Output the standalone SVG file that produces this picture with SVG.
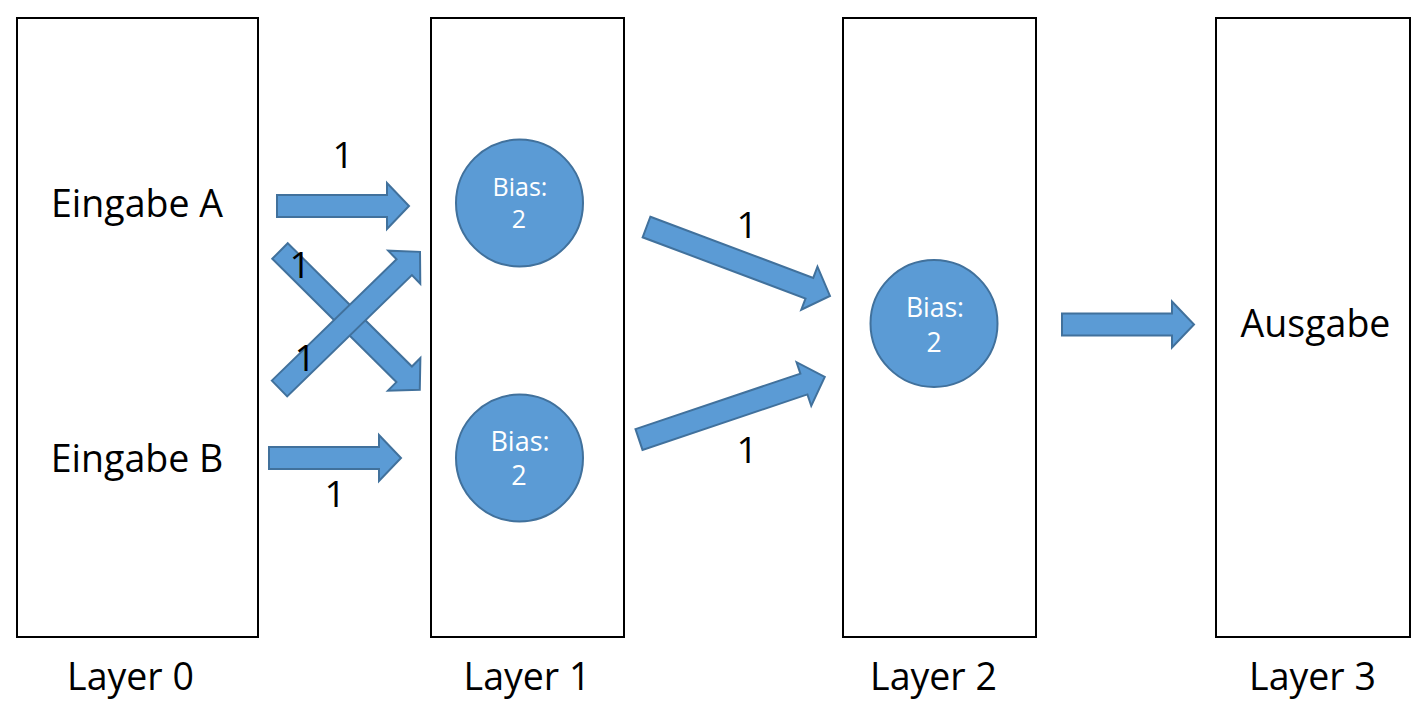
<svg xmlns="http://www.w3.org/2000/svg" width="1428" height="712" viewBox="0 0 1428 712">
<style>
.box{fill:#fff;stroke:#000;stroke-width:2}
.arr{fill:#5B9BD5;stroke:#41719C;stroke-width:2;stroke-linejoin:miter}
.circ{fill:#5B9BD5;stroke:#41719C;stroke-width:2}
.t{font-family:"Open Sans","Noto Sans",sans-serif;fill:#000;text-anchor:middle}
.big{font-size:37.5px}
.num{font-size:37px}
.bias{font-family:"Open Sans","Noto Sans",sans-serif;fill:#fff;text-anchor:middle}
</style>
<rect width="1428" height="712" fill="#fff"/>
<g id="layer0">
<rect class="box" x="17" y="18" width="241" height="619"/>
<text class="t big" x="137" y="217">Eingabe A</text>
<text class="t big" x="137" y="472">Eingabe B</text>
<text class="t big" x="130.5" y="690">Layer 0</text>
</g>
<g id="layer1">
<rect class="box" x="431" y="18" width="193" height="619"/>
<text class="t big" x="527" y="690">Layer 1</text>
</g>
<g id="layer2">
<rect class="box" x="843" y="18" width="193" height="619"/>
<text class="t big" x="933.5" y="690">Layer 2</text>
</g>
<g id="layer3">
<rect class="box" x="1216" y="18" width="194" height="619"/>
<text class="t big" x="1315.5" y="337">Ausgabe</text>
<text class="t big" x="1312.5" y="690">Layer 3</text>
</g>
<g id="neuron1a">
<circle class="circ" cx="519.5" cy="203" r="63.5"/>
<text class="bias" x="520" y="196" font-size="25">Bias:</text>
<text class="bias" x="519" y="228" font-size="25">2</text>
</g>
<g id="neuron1b">
<circle class="circ" cx="519.5" cy="458" r="63.5"/>
<text class="bias" x="520" y="451" font-size="27">Bias:</text>
<text class="bias" x="519" y="485" font-size="27">2</text>
</g>
<g id="neuron2">
<circle class="circ" cx="934" cy="323.5" r="63.5"/>
<text class="bias" x="935" y="316.5" font-size="26.5">Bias:</text>
<text class="bias" x="934" y="352" font-size="26.5">2</text>
</g>
<g id="connectors">
<path class="arr" d="M0,-11 H110 V-23 L132,0 L110,23 V11 H0 Z" transform="translate(277,206)"/>
<path class="arr" d="M0,-11 H110 V-23 L132,0 L110,23 V11 H0 Z" transform="translate(269,458)"/>
<path class="arr" d="M0,-11 H175 V-23 L197,0 L175,23 V11 H0 Z" transform="translate(280,251) rotate(44.8)"/>
<path class="arr" d="M0,-11 H174 V-23 L196,0 L174,23 V11 H0 Z" transform="translate(279.5,388.5) rotate(-44.2)"/>
<path class="arr" d="M0,-11 H174 V-23 L196,0 L174,23 V11 H0 Z" transform="translate(646.5,227) rotate(20.6)"/>
<path class="arr" d="M0,-11 H174 V-23 L196,0 L174,23 V11 H0 Z" transform="translate(639,439.5) rotate(-18.6)"/>
<path class="arr" d="M0,-11 H110 V-23 L132,0 L110,23 V11 H0 Z" transform="translate(1062,324.5)"/>
</g>
<g id="labels">
<text class="t num" x="343" y="168">1</text>
<text class="t num" x="300" y="278">1</text>
<text class="t num" x="305" y="371">1</text>
<text class="t num" x="335" y="507">1</text>
<text class="t num" x="747" y="238">1</text>
<text class="t num" x="747" y="463">1</text>
</g>
</svg>
